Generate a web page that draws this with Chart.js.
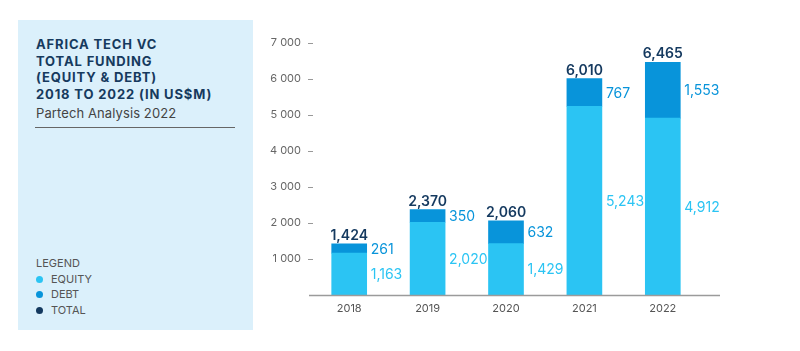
<!DOCTYPE html>
<html>
<head>
<meta charset="utf-8">
<script src="https://cdn.jsdelivr.net/npm/chart.js@4/dist/chart.umd.min.js"></script>
<style>
  html, body { margin: 0; padding: 0; background: #fff; width: 800px; height: 351px; overflow: hidden; font-family: Inter, "DejaVu Sans", sans-serif; }
  #panel { position: absolute; left: 18px; top: 20px; width: 235px; height: 310px; background: #dbf0fb; }
  #title { position: absolute; left: 18px; top: 16px; font-weight: 700; font-size: 13px; line-height: 16.5px; color: #163a5e; letter-spacing: 0.85px; }
  #sub { position: absolute; left: 18px; top: 85px; font-size: 13px; color: #444; letter-spacing: 0.1px; }
  #rule { position: absolute; left: 17px; top: 107px; width: 200px; height: 1px; background: #666; }
  #legend { position: absolute; left: 18px; top: 236px; font-size: 11px; color: #555; line-height: 15.5px; }
  #legend .it { position: relative; padding-left: 15px; }
  #legend .dot { position: absolute; left: 0; top: 4px; width: 7px; height: 7px; border-radius: 50%; }
  #wrap { position: absolute; left: 0; top: 0; width: 800px; height: 351px; }
</style>
</head>
<body>
<div id="panel">
  <div id="title">AFRICA TECH VC<br>TOTAL FUNDING<br>(EQUITY &amp; DEBT)<br>2018 TO 2022 (IN US$M)</div>
  <div id="sub">Partech Analysis 2022</div>
  <div id="rule"></div>
  <div id="legend">
    <div>LEGEND</div>
    <div class="it"><span class="dot" style="background:#2bc4f3"></span>EQUITY</div>
    <div class="it"><span class="dot" style="background:#0894da"></span>DEBT</div>
    <div class="it"><span class="dot" style="background:#14395f"></span>TOTAL</div>
  </div>
</div>
<div id="wrap"><canvas id="c" width="800" height="351"></canvas></div>
<script>
const years = ["2018", "2019", "2020", "2021", "2022"];
const equity = [1163, 2020, 1429, 5243, 4912];
const debt = [261, 350, 632, 767, 1553];
const totals = [1424, 2370, 2060, 6010, 6465];
const yTicks = [1000, 2000, 3000, 4000, 5000, 6000, 7000];

const EQ = "#2bc4f3", DB = "#0894da", TOT = "#14395f";
const FONT = "Inter, 'DejaVu Sans', sans-serif";

function fmt(v) { return v.toLocaleString("en-US"); }

const labelPlugin = {
  id: "labels",
  afterDatasetsDraw(chart) {
    const ctx = chart.ctx;
    const mEq = chart.getDatasetMeta(0).data;
    const mDb = chart.getDatasetMeta(1).data;
    ctx.save();
    mEq.forEach((bar, i) => {
      const db = mDb[i];
      const rx = bar.x + bar.width / 2 + 4;
      ctx.textAlign = "left";
      ctx.textBaseline = "middle";
      ctx.font = "400 14px " + FONT;
      ctx.fillStyle = EQ;
      ctx.fillText(fmt(equity[i]), rx, (bar.y + bar.base) / 2 + 1);
      ctx.fillStyle = DB;
      ctx.fillText(fmt(debt[i]), rx, (db.y + db.base) / 2 + 1);
      ctx.textAlign = "center";
      ctx.textBaseline = "alphabetic";
      ctx.font = "600 14px " + FONT;
      ctx.fillStyle = TOT;
      const ty = chart.scales.y.getPixelForValue(totals[i]);
      ctx.fillText(fmt(totals[i]), bar.x, ty - 4);
    });
    ctx.restore();
  }
};

const axisPlugin = {
  id: "axisDecor",
  afterDraw(chart) {
    const ctx = chart.ctx, a = chart.chartArea, y = chart.scales.y;
    ctx.save();
    ctx.strokeStyle = "#9b9b9b";
    ctx.lineWidth = 1.5;
    ctx.beginPath();
    ctx.moveTo(a.left - 1, a.bottom + 0.5);
    ctx.lineTo(a.right + 18, a.bottom + 0.5);
    ctx.stroke();
    ctx.strokeStyle = "#999";
    ctx.lineWidth = 1;
    yTicks.forEach(v => {
      const py = Math.round(y.getPixelForValue(v)) + 0.5;
      ctx.beginPath();
      ctx.moveTo(a.left - 2, py);
      ctx.lineTo(a.left + 3, py);
      ctx.stroke();
    });
    ctx.restore();
  }
};

new Chart(document.getElementById("c"), {
  type: "bar",
  data: {
    labels: years,
    datasets: [
      { label: "EQUITY", data: equity, backgroundColor: EQ, barThickness: 35, stack: "s" },
      { label: "DEBT", data: debt, backgroundColor: DB, barThickness: 35, stack: "s" }
    ]
  },
  options: {
    responsive: false,
    animation: false,
    devicePixelRatio: 1,
    layout: { padding: { left: 250, right: 98, top: 43, bottom: 26 } },
    plugins: { legend: { display: false }, tooltip: { enabled: false } },
    scales: {
      x: {
        stacked: true,
        grid: { display: false, drawTicks: false },
        border: { display: false },
        ticks: { color: "#555", font: { family: FONT, size: 11 }, padding: 7 },
        afterFit(s) { s.height = 30; }
      },
      y: {
        stacked: true,
        min: 0, max: 7000,
        afterBuildTicks(s) { s.ticks = [0].concat(yTicks).map(v => ({ value: v })); },
        grid: { display: false, drawTicks: false },
        border: { display: false },
        ticks: {
          color: "#666", font: { family: FONT, size: 11 }, padding: 9,
          callback: v => v === 0 ? "" : String(v).replace(/\B(?=(\d{3})+(?!\d))/g, " ")
        },
        afterFit(s) { s.width = 60; }
      }
    }
  },
  plugins: [labelPlugin, axisPlugin]
});
</script>
</body>
</html>
